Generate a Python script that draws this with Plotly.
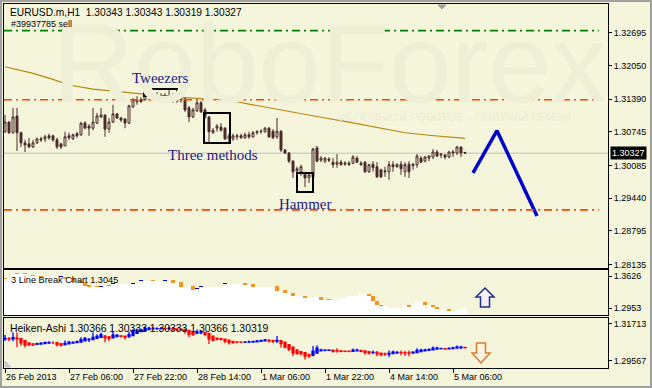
import plotly.graph_objects as go

# ---------------- data ----------------
OPEN = [1.3075,1.3094,1.3073,1.3106,1.3073,1.3053,1.3051,1.3045,1.3053,1.3061,
        1.3061,1.3067,1.3067,1.3059,1.3051,1.3047,1.3067,1.3061,1.3071,1.3069,
        1.3092,1.3086,1.3082,1.3092,1.3104,1.3108,1.3080,1.3094,1.3110,1.3102,
        1.3100,1.3092,1.3124,1.3134,1.3138,1.3138,1.3149,1.3143,1.3147,1.3143,
        1.3145,1.3141,1.3143,1.3141,1.3138,1.3140,1.3122,1.3104,1.3116,1.3132,
        1.3118,1.3104,1.3073,1.3082,1.3084,1.3082,1.3061,1.3061,1.3065,1.3067,
        1.3063,1.3069,1.3065,1.3073,1.3075,1.3075,1.3082,1.3076,1.3065,1.3076,
        1.3039,1.3033,1.3017,1.2998,1.2996,1.2992,1.2984,1.2986,1.3043,1.3019,
        1.3017,1.3021,1.3015,1.3011,1.3015,1.3011,1.3013,1.3013,1.3023,1.3013,
        1.3015,1.2996,1.3011,1.3006,1.3000,1.2998,1.2996,1.3010,1.3006,1.3011,
        1.2996,1.3011,1.3008,1.3010,1.3023,1.3017,1.3023,1.3025,1.3035,1.3029,
        1.3029,1.3025,1.3033,1.3033,1.3045,1.30343]
HIGH = [1.3108,1.3096,1.3122,1.3122,1.3075,1.3059,1.3063,1.3059,1.3063,1.3065,
        1.3069,1.3071,1.3069,1.3063,1.3053,1.3075,1.3073,1.3071,1.3075,1.3094,
        1.3096,1.3090,1.3122,1.3112,1.3122,1.3108,1.3102,1.3128,1.3112,1.3104,
        1.3102,1.3128,1.3141,1.3145,1.3143,1.3157,1.3155,1.3153,1.3153,1.3151,
        1.3151,1.3157,1.3151,1.3147,1.3145,1.3141,1.3126,1.3122,1.3140,1.3136,
        1.3122,1.3106,1.3082,1.3090,1.3092,1.3084,1.3071,1.3071,1.3071,1.3071,
        1.3073,1.3075,1.3076,1.3078,1.3080,1.3084,1.3084,1.3080,1.3102,1.3078,
        1.3041,1.3035,1.3019,1.3006,1.3010,1.2996,1.2992,1.3043,1.3047,1.3027,
        1.3025,1.3025,1.3023,1.3031,1.3019,1.3017,1.3017,1.3029,1.3027,1.3017,
        1.3017,1.3011,1.3017,1.3015,1.3002,1.3006,1.3017,1.3017,1.3013,1.3017,
        1.3015,1.3017,1.3013,1.3031,1.3027,1.3027,1.3029,1.3041,1.3039,1.3033,
        1.3031,1.3037,1.3039,1.3047,1.3045,1.30343]
LOW = [1.3073,1.3071,1.3071,1.3037,1.3045,1.3035,1.3043,1.3043,1.3051,1.3055,
       1.3055,1.3059,1.3055,1.3041,1.3041,1.3047,1.3059,1.3059,1.3063,1.3067,
       1.3082,1.3067,1.3078,1.3090,1.3102,1.3065,1.3073,1.3092,1.3100,1.3094,
       1.3082,1.3090,1.3122,1.3128,1.3132,1.3136,1.3141,1.3140,1.3138,1.3140,
       1.3138,1.3138,1.3132,1.3132,1.3132,1.3114,1.3094,1.3102,1.3114,1.3112,
       1.3100,1.3055,1.3071,1.3075,1.3075,1.3059,1.3053,1.3057,1.3059,1.3061,
       1.3061,1.3061,1.3063,1.3069,1.3071,1.3073,1.3063,1.3061,1.3061,1.3035,
       1.3031,1.3013,1.2984,1.2994,1.2988,1.2966,1.2974,1.2984,1.3015,1.3015,
       1.3013,1.3015,1.3004,1.3004,1.3008,1.3008,1.3008,1.3011,1.3013,1.3008,
       1.2994,1.2994,1.2996,1.2984,1.2984,1.2986,1.2980,1.2996,1.3004,1.2990,
       1.2986,1.2984,1.3000,1.3004,1.3013,1.3015,1.3017,1.3021,1.3025,1.3023,
       1.3021,1.3023,1.3025,1.3029,1.3025,1.30319]
CLOSE = [1.3094,1.3073,1.3104,1.3073,1.3053,1.3049,1.3045,1.3053,1.3061,1.3059,
         1.3065,1.3063,1.3059,1.3045,1.3045,1.3065,1.3063,1.3069,1.3067,1.3092,
         1.3082,1.3082,1.3094,1.3106,1.3108,1.3080,1.3094,1.3110,1.3102,1.3098,
         1.3092,1.3126,1.3138,1.3138,1.3134,1.3149,1.3145,1.3147,1.3141,1.3145,
         1.3141,1.3145,1.3138,1.3136,1.3141,1.3118,1.3104,1.3118,1.3132,1.3114,
         1.3104,1.3075,1.3078,1.3086,1.3078,1.3061,1.3067,1.3067,1.3067,1.3063,
         1.3069,1.3065,1.3073,1.3075,1.3076,1.3082,1.3065,1.3063,1.3076,1.3039,
         1.3033,1.3017,1.2996,1.3002,1.3006,1.2984,1.2990,1.3041,1.3017,1.3023,
         1.3023,1.3019,1.3010,1.3015,1.3010,1.3013,1.3010,1.3025,1.3015,1.3010,
         1.2996,1.3010,1.3004,1.2986,1.2986,1.2996,1.3010,1.3006,1.3010,1.3002,
         1.3010,1.2996,1.3011,1.3027,1.3015,1.3025,1.3027,1.3035,1.3027,1.3031,
         1.3025,1.3035,1.3035,1.3045,1.3033,1.30327]

# moving average
MA_BAR = [0, 7, 12, 16, 22, 29, 36, 43, 50, 56, 62, 68, 74, 80, 86, 93, 100, 106, 111, 115]
MA_VAL = [1.3203, 1.3190, 1.3178, 1.3167, 1.3159, 1.3153, 1.3148, 1.3143, 1.3140, 1.3137,
          1.3128, 1.3119, 1.3110, 1.3102, 1.3094, 1.3083, 1.3073, 1.3068, 1.3064, 1.3062]

# forecast zig-zag
FC_BAR = [117, 123, 133]
FC_VAL = [1.2994, 1.3077, 1.2909]

# horizontal levels
LEVEL_GREEN = 1.3274
LEVEL_RED = [1.3138, 1.2921]
LAST_PRICE = 1.30327

# candle patterns: name, first bar edge, last bar edge, low, high
PATTERNS = [("Tweezers", 34.75, 43.0, 1.31454, 1.31592),
            ("Three methods", 49.75, 56.25, 1.30528, 1.31119),
            ("Hammer", 73.0, 77.0, 1.29563, 1.29937)]

# 3 Line Break indicator level per bar and brick direction
LB = [1.3563,1.3605,1.3668,1.3668,1.3668,1.3668,1.3647,1.3626,1.3605,1.3605,
      1.3605,1.3626,1.3626,1.3605,1.3605,1.3563,1.3563,1.3500,1.3500,1.3479,
      1.3416,1.3395,1.3395,1.3395,1.3395,1.3416,1.3416,1.3458,1.3458,1.3458,
      1.3458,1.3458,1.3458,1.3479,1.3521,1.3521,1.3521,1.3521,1.3521,1.3521,
      1.3521,1.3521,1.3479,1.3479,1.3395,1.3395,1.3395,1.3332,1.3353,1.3395,
      1.3395,1.3395,1.3395,1.3395,1.3395,1.3458,1.3458,1.3458,1.3458,1.3458,
      1.3437,1.3437,1.3395,1.3395,1.3395,1.3395,1.3395,1.3395,1.3311,1.3311,
      1.3268,1.3268,1.3205,1.3205,1.3205,1.3163,1.3163,1.3184,1.3184,1.3121,
      1.3121,1.3121,1.3121,1.3121,1.3163,1.3163,1.3205,1.3205,1.3205,1.3247,
      1.3247,1.3205,1.3100,1.3016,1.2995,1.2995,1.2953,1.2953,1.2953,1.2953,
      1.3016,1.2974,1.3037,1.3079,1.3079,1.3016,1.3016,1.2974,1.2932,1.2932,
      1.2932,1.2890,1.2890,1.2890,1.2932,1.2953]
LB_DIR = list("duud-d-d-d" "-u--ud-d-d" "dd-du-du--" "--u-u--d--" "u-d-d--duu"
              "-----u----" "d-d-----d-" "d-d--d-u-d" "-d--u-u--u" "-dddd-----"
              "uduu-d-dd-" "-d--uu")

X_TICK_BARS = [0, 16, 32, 48, 64, 80, 96, 112]
X_TICK_TEXT = ["26 Feb 2013", "27 Feb 06:00", "27 Feb 22:00", "28 Feb 14:00",
               "1 Mar 06:00", "1 Mar 22:00", "4 Mar 14:00", "5 Mar 06:00"]
Y1_TICKS = [1.32695, 1.32050, 1.31390, 1.30745, 1.30085, 1.29440, 1.28795, 1.28135]
Y2_TICKS = [1.3626, 1.2953]
Y3_TICKS = [1.31713, 1.29567]

# ---------------- styling ----------------
BG = "#F5F5DC"
CANDLE = "#4A2A2A"
FONT = "Liberation Sans, Arial, sans-serif"
SERIF = "Liberation Serif, Times New Roman, serif"
PAT_COLOR = "#1A1A80"

N = len(OPEN)
X = list(range(N))

# Heiken-Ashi from the OHLC bars
ha_c = [(o + h + l + c) / 4 for o, h, l, c in zip(OPEN, HIGH, LOW, CLOSE)]
ha_o = []
for i in range(N):
    ha_o.append((OPEN[0] + CLOSE[0]) / 2 if i == 0 else (ha_o[-1] + ha_c[i - 1]) / 2)
ha_h = [max(h, a, b) for h, a, b in zip(HIGH, ha_o, ha_c)]
ha_l = [min(l, a, b) for l, a, b in zip(LOW, ha_o, ha_c)]

fig = go.Figure()

# main candles
fig.add_trace(go.Candlestick(
    x=X, open=OPEN, high=HIGH, low=LOW, close=CLOSE,
    increasing=dict(line=dict(color=CANDLE, width=1), fillcolor=BG),
    decreasing=dict(line=dict(color=CANDLE, width=1), fillcolor=CANDLE),
    whiskerwidth=0, xaxis="x", yaxis="y", hoverinfo="skip", showlegend=False))

fig.add_trace(go.Scatter(x=MA_BAR, y=MA_VAL, mode="lines",
                         line=dict(color="#B8860B", width=1.2), xaxis="x", yaxis="y",
                         hoverinfo="skip", showlegend=False))

fig.add_trace(go.Scatter(x=FC_BAR, y=FC_VAL, mode="lines",
                         line=dict(color="#0000CD", width=3.5), xaxis="x", yaxis="y",
                         hoverinfo="skip", showlegend=False))

# line break panel
lb_x = [i - 0.5 for i in X] + [N - 0.5]
lb_y = LB + [LB[-1]]
fig.add_trace(go.Scatter(x=lb_x, y=lb_y, mode="lines", line_shape="hv",
                         line=dict(width=0, color="white"), fill="tozeroy",
                         fillcolor="white", xaxis="x2", yaxis="y2",
                         hoverinfo="skip", showlegend=False))
half = 0.00105
bx, bbase, bh, bcol = [], [], [], []
for i in range(N):
    d = LB_DIR[i]
    if d == "-":
        continue
    prev = LB[i - 1] if i > 0 else LB[i]
    lo = min(prev, LB[i]) - half
    hi = max(prev, LB[i]) + half
    bx.append(i)
    bbase.append(lo)
    bh.append(hi - lo)
    bcol.append("#0000FF" if d == "u" else "#F7931E")
fig.add_trace(go.Bar(x=bx, y=bh, base=bbase, width=0.95,
                     marker=dict(color=bcol, line=dict(width=0)),
                     xaxis="x2", yaxis="y2", hoverinfo="skip", showlegend=False))

# Heiken-Ashi panel
fig.add_trace(go.Candlestick(
    x=X, open=ha_o, high=ha_h, low=ha_l, close=ha_c,
    increasing=dict(line=dict(color="#0000FF", width=1.3), fillcolor="#0000FF"),
    decreasing=dict(line=dict(color="#FF0000", width=1.3), fillcolor="#FF0000"),
    whiskerwidth=0, xaxis="x3", yaxis="y3", hoverinfo="skip", showlegend=False))

# ---------------- layout ----------------
def pxx(px):
    return (px - 4) / 604.0

def pxy(py):
    return (368 - py) / 364.0

axis_common = dict(showline=True, linecolor="black", linewidth=1, mirror=True,
                   showgrid=False, zeroline=False)
ytick_common = dict(side="right", ticks="outside", ticklen=3, tickcolor="black",
                    tickfont=dict(family=FONT, size=9, color="black"))

XR = [-0.25, 150.75]
fig.update_layout(
    width=652, height=388, autosize=False,
    margin=dict(l=4, r=44, t=4, b=20),
    paper_bgcolor=BG, plot_bgcolor=BG,
    showlegend=False, bargap=0, boxgap=0.3,
    xaxis=dict(domain=[0, 1], anchor="y", range=XR, showticklabels=False, ticks="",
               rangeslider=dict(visible=False), **axis_common),
    xaxis2=dict(domain=[0, 1], anchor="y2", matches="x", range=XR, showticklabels=False,
                ticks="", **axis_common),
    xaxis3=dict(domain=[0, 1], anchor="y3", matches="x", range=XR, showticklabels=False,
                ticks="outside", ticklen=4, tickcolor="black", tickvals=X_TICK_BARS,
                rangeslider=dict(visible=False), **axis_common),
    yaxis=dict(domain=[pxy(268), 1], anchor="x", range=[1.28065, 1.33266],
               tickvals=Y1_TICKS, ticktext=["%.5f" % v for v in Y1_TICKS],
               **ytick_common, **axis_common),
    yaxis2=dict(domain=[pxy(315), pxy(270)], anchor="x2", range=[1.28058, 1.37521],
                tickvals=Y2_TICKS, ticktext=["%.4f" % v for v in Y2_TICKS],
                **ytick_common, **axis_common),
    yaxis3=dict(domain=[0, pxy(318)], anchor="x3", range=[1.2916, 1.3206],
                tickvals=Y3_TICKS, ticktext=["%.5f" % v for v in Y3_TICKS],
                **ytick_common, **axis_common),
)

shapes = []
# horizontal levels
dash = "8px,4px,2px,4px"
shapes.append(dict(type="line", xref="x domain", yref="y", x0=0, x1=0.985,
                   y0=LEVEL_GREEN, y1=LEVEL_GREEN, line=dict(color="#008000", width=1.7, dash=dash),
                   layer="above"))
for lv in LEVEL_RED:
    shapes.append(dict(type="line", xref="x domain", yref="y", x0=0, x1=0.985,
                       y0=lv, y1=lv, line=dict(color="#FF4500", width=1.7, dash=dash),
                       layer="above"))
shapes.append(dict(type="line", xref="x domain", yref="y", x0=0, x1=1,
                   y0=LAST_PRICE, y1=LAST_PRICE, line=dict(color="#C0C0C0", width=1),
                   layer="below"))
# pattern boxes
for name, b0, b1, lo, hi in PATTERNS:
    shapes.append(dict(type="rect", xref="x", yref="y", x0=b0, x1=b1, y0=lo, y1=hi,
                       line=dict(color="black", width=2), fillcolor="rgba(0,0,0,0)"))

def path(points):
    s = "M " + " L ".join("%.5f,%.5f" % (pxx(a), pxy(b)) for a, b in points) + " Z"
    return s

# arrows
shapes.append(dict(type="path", xref="paper", yref="paper",
                   path=path([(485, 288), (494, 297), (489.5, 297), (489.5, 307),
                              (480.5, 307), (480.5, 297), (476, 297)]),
                   line=dict(color="#1F2F8F", width=1.5), fillcolor="#F8F0F8"))
shapes.append(dict(type="path", xref="paper", yref="paper",
                   path=path([(481, 363), (490, 353), (485.5, 353), (485.5, 343),
                              (476.5, 343), (476.5, 353), (472, 353)]),
                   line=dict(color="#E07A2A", width=1.5), fillcolor="#FBF3E4"))
# small markers
shapes.append(dict(type="path", xref="paper", yref="paper",
                   path=path([(438, 5), (446, 5), (442, 9)]),
                   line=dict(color="#A0A0A0", width=1), fillcolor="#A0A0A0"))
shapes.append(dict(type="path", xref="paper", yref="paper",
                   path=path([(5, 361), (5, 367), (11, 367)]),
                   line=dict(color="#C8C8C8", width=1), fillcolor="#C8C8C8"))
# outer window frame
shapes.append(dict(type="rect", xref="paper", yref="paper",
                   x0=pxx(1), x1=pxx(651), y0=pxy(387), y1=pxy(1),
                   line=dict(color="#A0A0A0", width=2), fillcolor="rgba(0,0,0,0)"))

annotations = []
# watermark
annotations.append(dict(xref="paper", yref="paper", x=pxx(330), y=pxy(64),
                        text="RoboForex", showarrow=False, xanchor="center", yanchor="middle",
                        font=dict(family=FONT, size=112, color="#EFEFD8")))
annotations.append(dict(xref="paper", yref="paper", x=pxx(455), y=pxy(117),
                        text="ИСПОЛЬЗУЙ РОБОТОВ – ПОЛУЧАЙ ПРИЗЫ", showarrow=False,
                        xanchor="center", yanchor="middle",
                        font=dict(family=FONT, size=11, color="#ECECD6")))
# header texts
annotations.append(dict(xref="paper", yref="paper", x=pxx(8), y=pxy(12),
                        text="EURUSD.m,H1\u00a0\u00a01.30343 1.30343 1.30319 1.30327",
                        showarrow=False, xanchor="left", yanchor="middle",
                        font=dict(family=FONT, size=10.2, color="black")))
annotations.append(dict(xref="paper", yref="paper", x=pxx(9), y=pxy(24),
                        text="#39937785 sell", showarrow=False, xanchor="left", yanchor="middle",
                        font=dict(family=FONT, size=9, color="black")))
annotations.append(dict(xref="paper", yref="paper", x=pxx(9), y=pxy(279.5),
                        text="3 Line Break Chart 1.3045", showarrow=False, xanchor="left",
                        yanchor="middle", font=dict(family=FONT, size=9.2, color="black")))
annotations.append(dict(xref="paper", yref="paper", x=pxx(8), y=pxy(328),
                        text="Heiken-Ashi 1.30366 1.30333 1.30333 1.30366 1.30319",
                        showarrow=False, xanchor="left", yanchor="middle",
                        font=dict(family=FONT, size=10.4, color="black")))
# pattern labels
for name, b0, b1, lo, hi in PATTERNS:
    c = (b0 + b1) / 2
    if name == "Tweezers":
        annotations.append(dict(xref="x", yref="y", x=c, y=hi, yanchor="bottom", yshift=1,
                                text=name, showarrow=False,
                                font=dict(family=SERIF, size=15, color=PAT_COLOR)))
    else:
        annotations.append(dict(xref="x", yref="y", x=c, y=lo, yanchor="top", yshift=-2,
                                xshift=-4 if name == "Three methods" else 0,
                                text=name, showarrow=False,
                                font=dict(family=SERIF, size=15, color=PAT_COLOR)))
# last price tag
annotations.append(dict(xref="paper", yref="y", x=1, y=LAST_PRICE, xanchor="left",
                        yanchor="middle", xshift=2, text="1.30327", showarrow=False,
                        bgcolor="black", borderpad=1,
                        font=dict(family=FONT, size=9, color="white")))
# x labels
for b, t in zip(X_TICK_BARS, X_TICK_TEXT):
    annotations.append(dict(xref="x3", yref="paper", x=b, y=pxy(377.5), xanchor="left",
                            yanchor="middle", xshift=-1, text=t, showarrow=False,
                            font=dict(family=FONT, size=9, color="black")))

fig.update_layout(shapes=shapes, annotations=annotations)
fig.write_html("out.html")
